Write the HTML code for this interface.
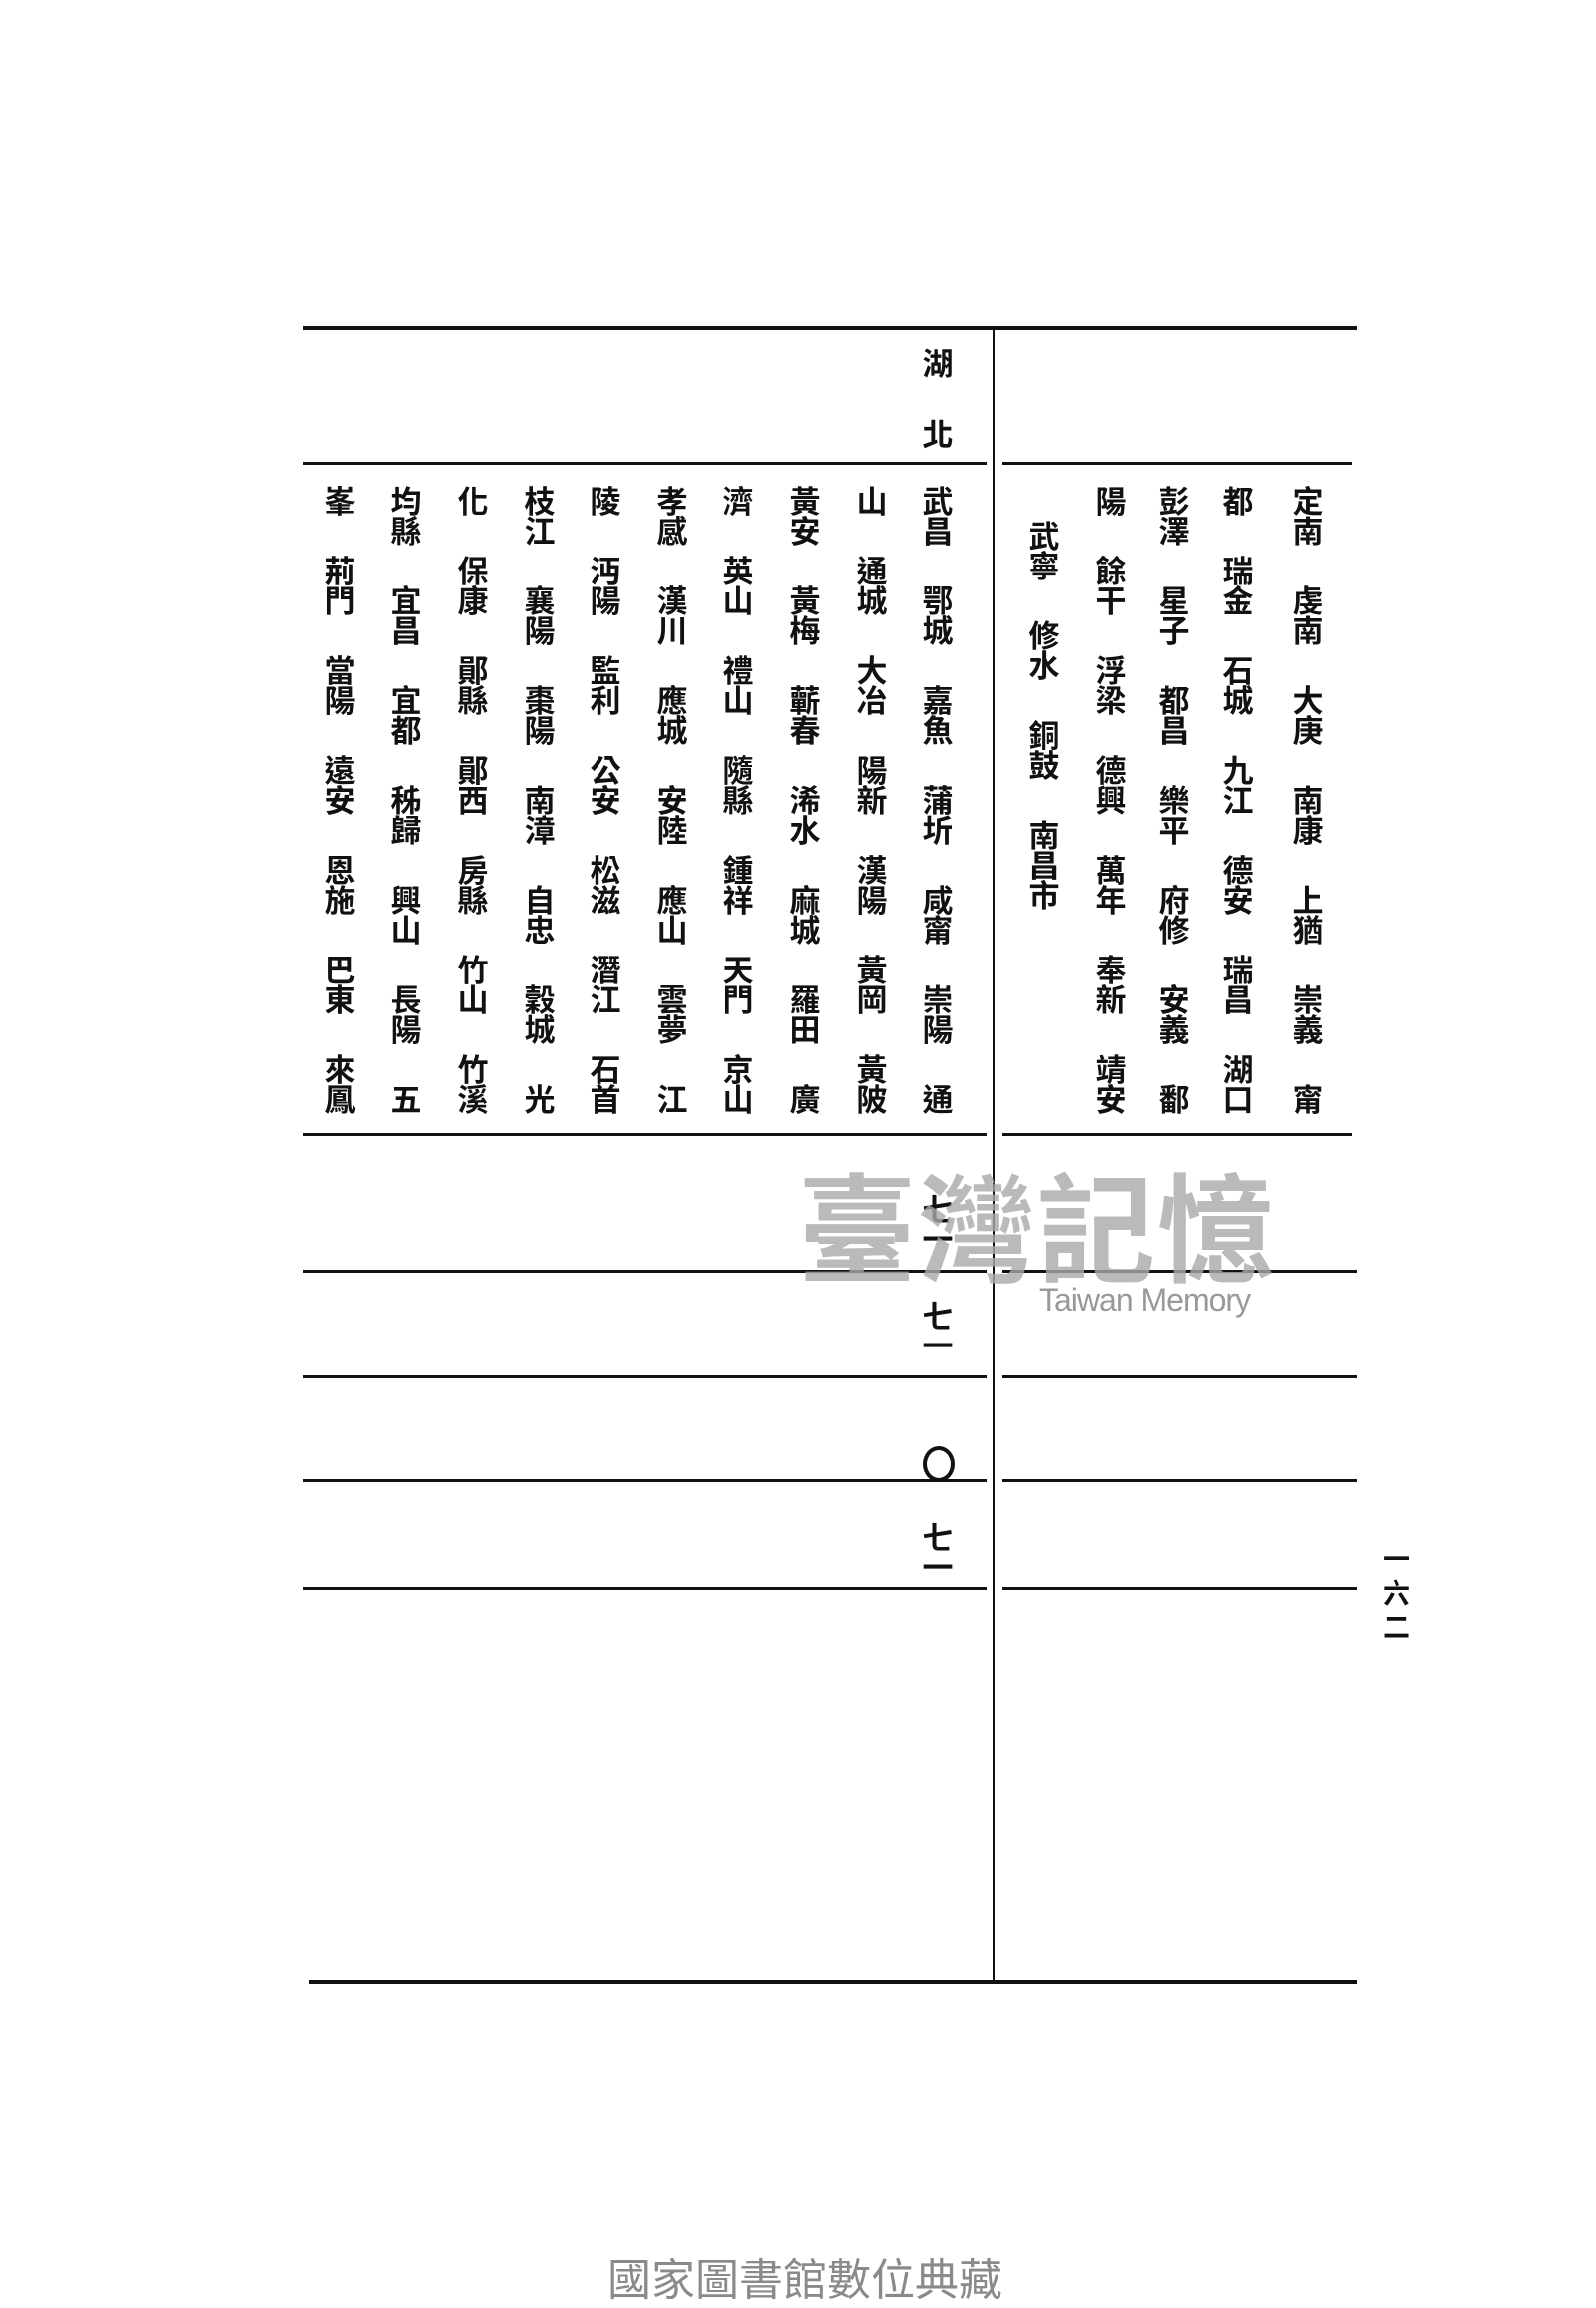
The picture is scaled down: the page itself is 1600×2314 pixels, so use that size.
<!DOCTYPE html>
<html><head><meta charset="utf-8">
<style>
html,body{margin:0;padding:0;background:#fff;}
body{width:1600px;height:2300px;position:relative;overflow:hidden;font-family:"Liberation Sans","Noto Sans CJK TC",sans-serif;}
.h{position:absolute;background:#111;}
.col{position:absolute;width:40px;display:flex;flex-direction:column;align-items:center;gap:40px;font-family:"Noto Sans CJK TC","WenQuanYi Zen Hei",sans-serif;font-weight:700;font-size:31px;color:#111;}
.col div{line-height:30px;text-align:center;width:40px;}
.c{position:absolute;font-family:"Noto Sans CJK TC",sans-serif;font-weight:700;font-size:31px;line-height:30px;width:40px;text-align:center;color:#111;}
</style></head><body>
<div class="h" style="left:304px;top:327px;width:1056px;height:4px;"></div>
<div class="h" style="left:995px;top:329px;width:2px;height:1660px;"></div>
<div class="h" style="left:304px;top:463px;width:685px;height:3px;"></div>
<div class="h" style="left:1005px;top:463px;width:350px;height:3px;"></div>
<div class="h" style="left:304px;top:1136px;width:685px;height:3px;"></div>
<div class="h" style="left:1005px;top:1136px;width:350px;height:3px;"></div>
<div class="h" style="left:304px;top:1273px;width:685px;height:3px;"></div>
<div class="h" style="left:1005px;top:1273px;width:355px;height:3px;"></div>
<div class="h" style="left:304px;top:1379px;width:685px;height:3px;"></div>
<div class="h" style="left:1005px;top:1379px;width:355px;height:3px;"></div>
<div class="h" style="left:304px;top:1483px;width:685px;height:3px;"></div>
<div class="h" style="left:1005px;top:1483px;width:355px;height:3px;"></div>
<div class="h" style="left:304px;top:1591px;width:685px;height:3px;"></div>
<div class="h" style="left:1005px;top:1591px;width:355px;height:3px;"></div>
<div class="h" style="left:310px;top:1985px;width:1050px;height:4px;"></div>

<div class="c" style="left:920px;top:348px;">湖</div>
<div class="c" style="left:920px;top:419px;">北</div>

<div class="col" style="left:1291px;top:486px;"><div>定<br>南</div><div>虔<br>南</div><div>大<br>庚</div><div>南<br>康</div><div>上<br>猶</div><div>崇<br>義</div><div>甯</div></div>
<div class="col" style="left:1221px;top:486px;"><div>都</div><div>瑞<br>金</div><div>石<br>城</div><div>九<br>江</div><div>德<br>安</div><div>瑞<br>昌</div><div>湖<br>口</div></div>
<div class="col" style="left:1157px;top:486px;"><div>彭<br>澤</div><div>星<br>子</div><div>都<br>昌</div><div>樂<br>平</div><div>府<br>修</div><div>安<br>義</div><div>鄱</div></div>
<div class="col" style="left:1094px;top:486px;"><div>陽</div><div>餘<br>干</div><div>浮<br>梁</div><div>德<br>興</div><div>萬<br>年</div><div>奉<br>新</div><div>靖<br>安</div></div>
<div class="col" style="left:1027px;top:521px;"><div>武<br>寧</div><div>修<br>水</div><div>銅<br>鼓</div><div>南<br>昌<br>市</div></div>

<div class="col" style="left:920px;top:486px;"><div>武<br>昌</div><div>鄂<br>城</div><div>嘉<br>魚</div><div>蒲<br>圻</div><div>咸<br>甯</div><div>崇<br>陽</div><div>通</div></div>
<div class="col" style="left:854px;top:486px;"><div>山</div><div>通<br>城</div><div>大<br>冶</div><div>陽<br>新</div><div>漢<br>陽</div><div>黃<br>岡</div><div>黃<br>陂</div></div>
<div class="col" style="left:787px;top:486px;"><div>黃<br>安</div><div>黃<br>梅</div><div>蘄<br>春</div><div>浠<br>水</div><div>麻<br>城</div><div>羅<br>田</div><div>廣</div></div>
<div class="col" style="left:720px;top:486px;"><div>濟</div><div>英<br>山</div><div>禮<br>山</div><div>隨<br>縣</div><div>鍾<br>祥</div><div>天<br>門</div><div>京<br>山</div></div>
<div class="col" style="left:654px;top:486px;"><div>孝<br>感</div><div>漢<br>川</div><div>應<br>城</div><div>安<br>陸</div><div>應<br>山</div><div>雲<br>夢</div><div>江</div></div>
<div class="col" style="left:587px;top:486px;"><div>陵</div><div>沔<br>陽</div><div>監<br>利</div><div>公<br>安</div><div>松<br>滋</div><div>潛<br>江</div><div>石<br>首</div></div>
<div class="col" style="left:521px;top:486px;"><div>枝<br>江</div><div>襄<br>陽</div><div>棗<br>陽</div><div>南<br>漳</div><div>自<br>忠</div><div>穀<br>城</div><div>光</div></div>
<div class="col" style="left:454px;top:486px;"><div>化</div><div>保<br>康</div><div>鄖<br>縣</div><div>鄖<br>西</div><div>房<br>縣</div><div>竹<br>山</div><div>竹<br>溪</div></div>
<div class="col" style="left:387px;top:486px;"><div>均<br>縣</div><div>宜<br>昌</div><div>宜<br>都</div><div>秭<br>歸</div><div>興<br>山</div><div>長<br>陽</div><div>五</div></div>
<div class="col" style="left:321px;top:486px;"><div>峯</div><div>荊<br>門</div><div>當<br>陽</div><div>遠<br>安</div><div>恩<br>施</div><div>巴<br>東</div><div>來<br>鳳</div></div>

<div class="c" style="left:920px;top:1196px;">七<br>一</div>
<div class="c" style="left:920px;top:1303px;">七<br>一</div>
<div style="position:absolute;left:925px;top:1450px;width:24px;height:28px;border:4px solid #111;border-radius:50%;"></div>
<div class="c" style="left:920px;top:1525px;">七<br>一</div>

<div style="position:absolute;left:800px;top:1160px;font-family:'Noto Sans CJK TC',sans-serif;font-weight:700;font-size:118px;line-height:130px;color:#aaa;opacity:0.8;letter-spacing:2px;">臺灣記憶</div>
<div style="position:absolute;left:1042px;top:1285px;font-family:'Liberation Sans',sans-serif;font-size:32px;color:#999;letter-spacing:-1px;">Taiwan Memory</div>

<div class="c" style="left:1380px;top:1545px;font-size:28px;line-height:34px;">一<br>六<br>二</div>

<div style="position:absolute;left:0;width:1614px;top:2250px;text-align:center;font-family:'Noto Sans CJK TC',sans-serif;font-size:44px;color:#8a8a8a;">國家圖書館數位典藏</div>
</body></html>
